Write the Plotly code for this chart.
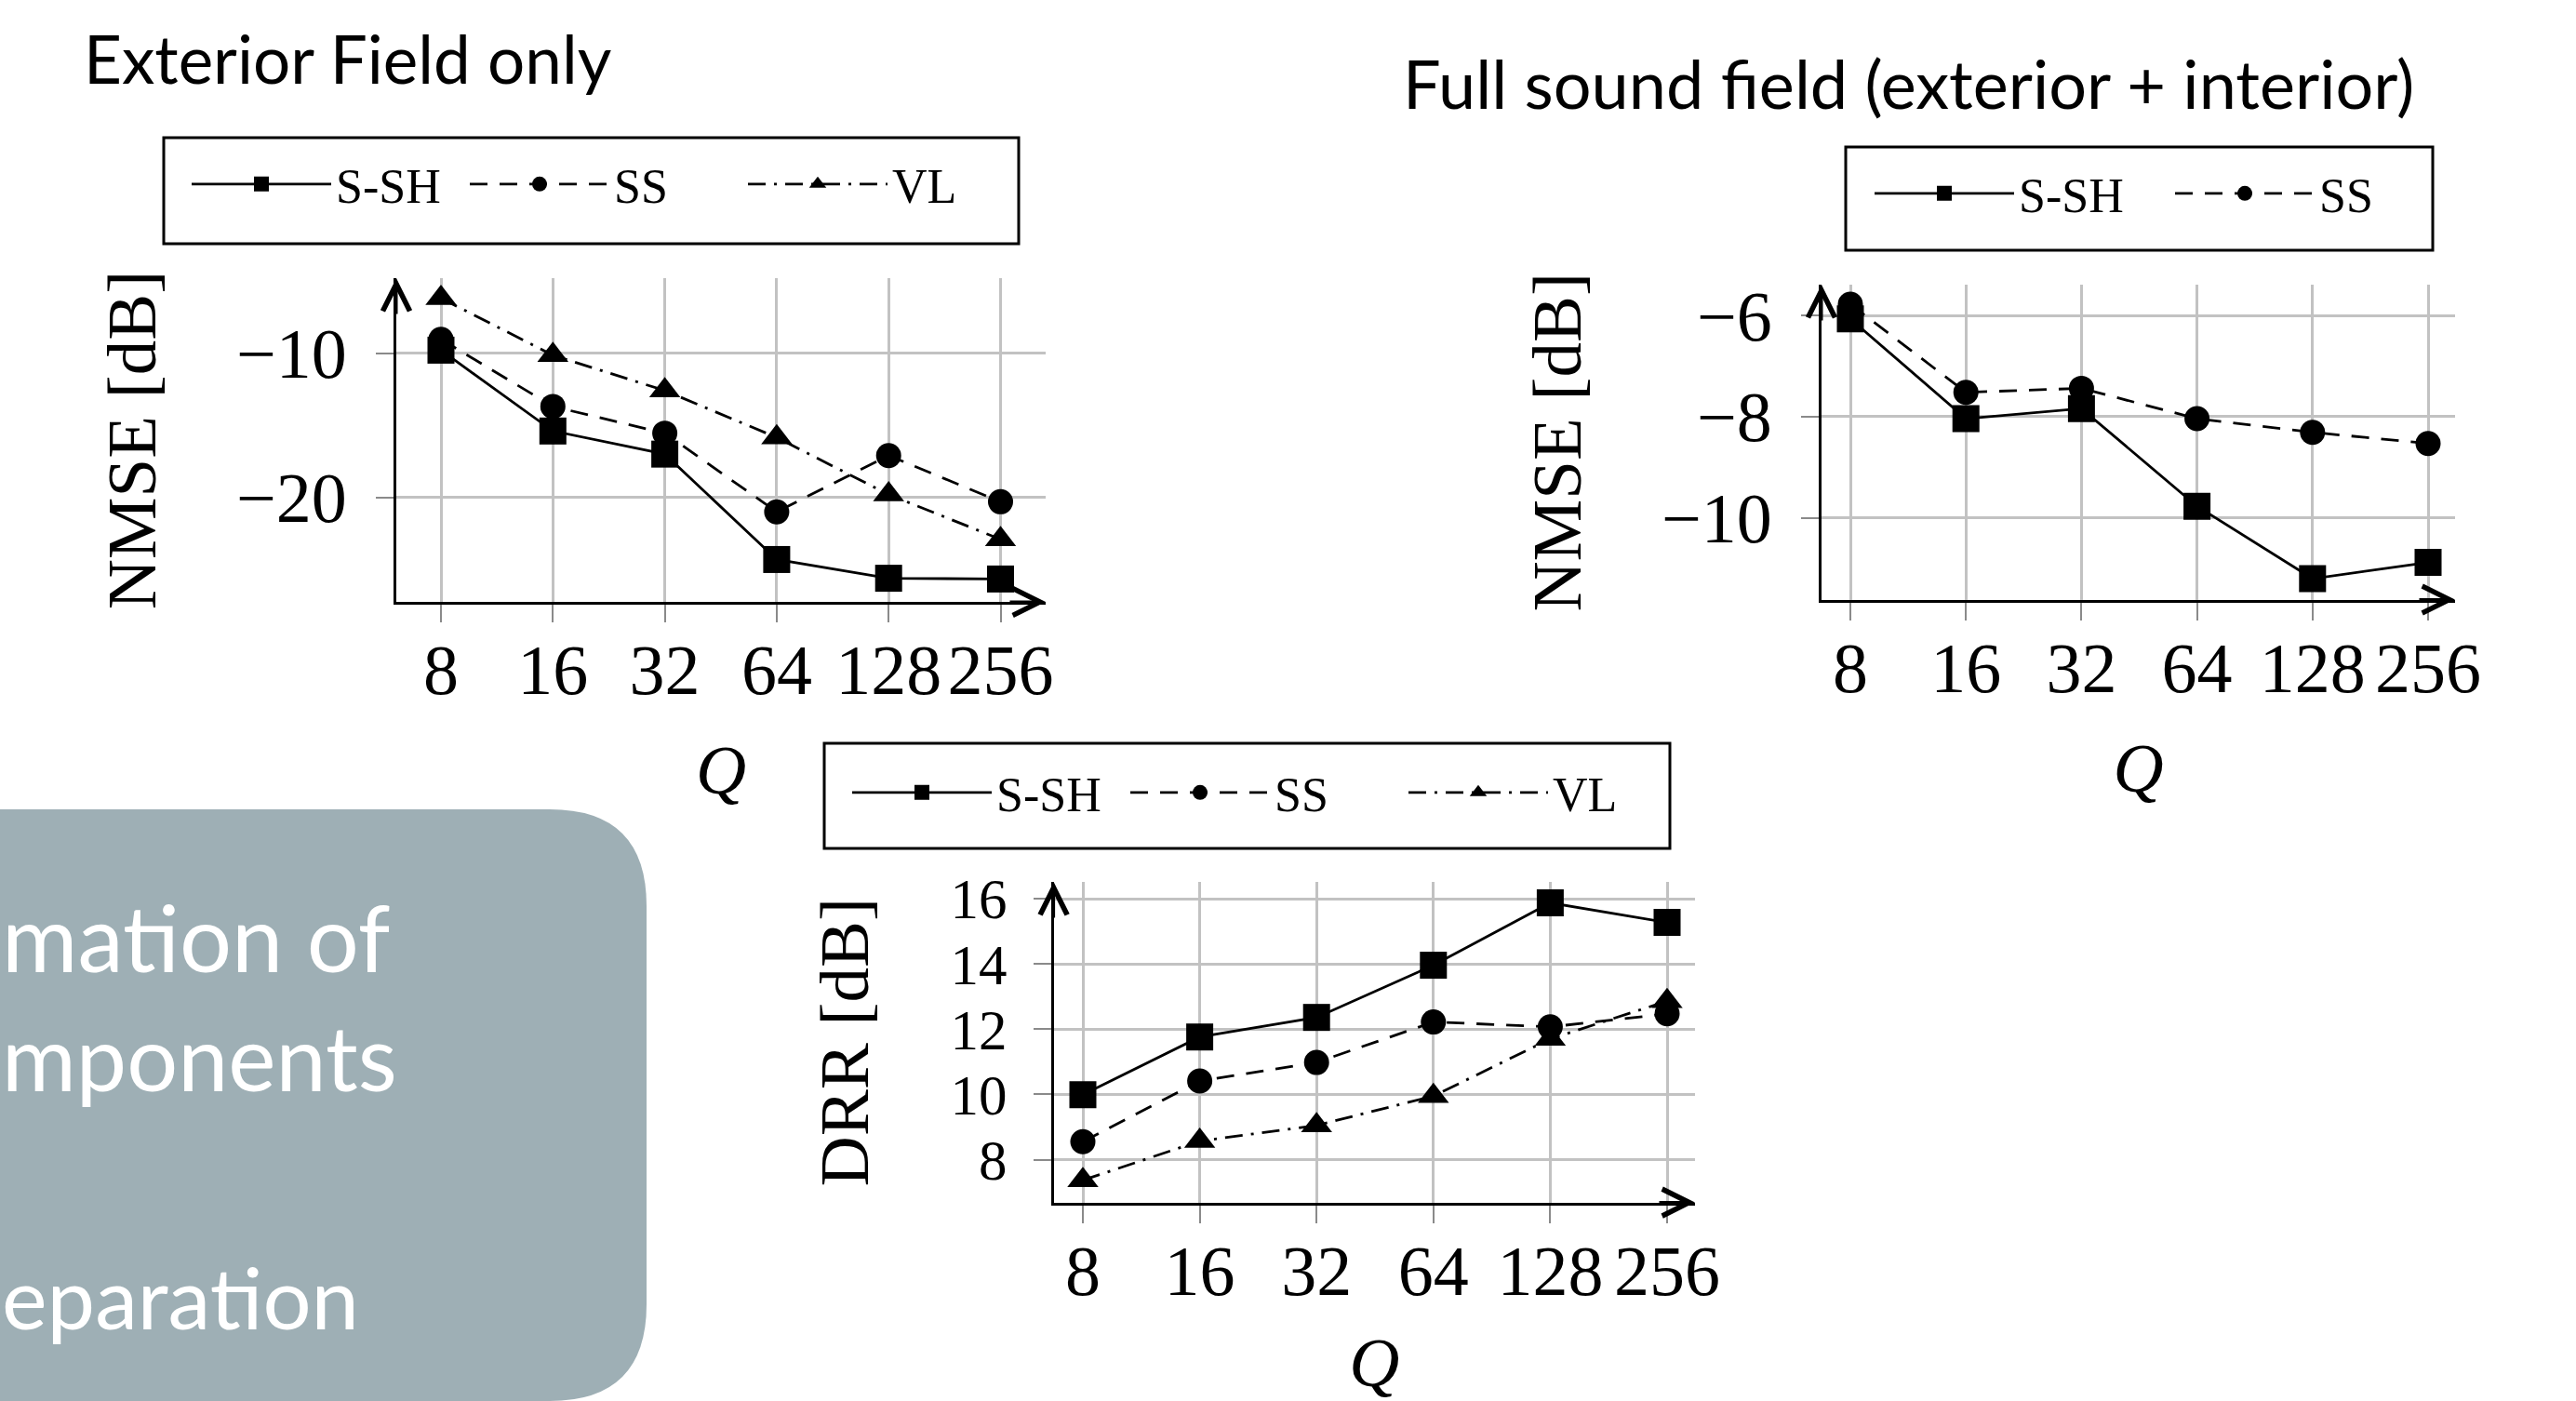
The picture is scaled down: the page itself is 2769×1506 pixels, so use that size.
import math
import plotly.graph_objects as go

W, H = 2769, 1506

# ---------------- data ----------------
Q = [8, 16, 32, 64, 128, 256]
q_ticktext = ["8", "16", "32", "64", "128", "256"]

ext_ssh = [-9.8, -15.4, -17.0, -24.3, -25.6, -25.65]
ext_ss = [-9.05, -13.7, -15.55, -21.0, -17.1, -20.3]
ext_vl = [-6.2, -10.15, -12.6, -15.85, -19.8, -22.9]

full_ssh = [-6.07, -8.04, -7.84, -9.77, -11.2, -10.88]
full_ss = [-5.78, -7.52, -7.44, -8.04, -8.31, -8.53]

drr_ssh = [9.99, 11.76, 12.36, 13.96, 15.87, 15.27]
drr_ss = [8.55, 10.41, 10.98, 12.22, 12.07, 12.47]
drr_vl = [7.37, 8.57, 9.05, 9.95, 11.7, 12.86]

ext_yticks = [-10, -20]
ext_yticktext = ["\u221210", "\u221220"]
full_yticks = [-6, -8, -10]
full_yticktext = ["\u22126", "\u22128", "\u221210"]
drr_yticks = [8, 10, 12, 14, 16]
drr_yticktext = ["8", "10", "12", "14", "16"]

series_names = ["S-SH", "SS", "VL"]

panel_lines = ["mation of", "mponents", "eparation"]

# ---------------- layout helpers ----------------
def px(x):
    return x / W

def py(y):
    return 1 - y / H

L2 = math.log10(2)

def xrange_log(left, right, tick8, step):
    a = math.log10(8) - (tick8 - left) / step * L2
    b = math.log10(8) + (right - tick8) / step * L2
    return [a, b]

def yrange_lin(top, bottom, vref, yref, ppd):
    lo = vref - (bottom - yref) / ppd
    hi = vref + (yref - top) / ppd
    return [lo, hi]

# plot boxes (pixels): left, right, top, bottom
P1 = dict(l=426, r=1124, t=299, b=647)
P2 = dict(l=1958, r=2639, t=306, b=644.5)
P3 = dict(l=1132.6, r=1822, t=948, b=1292.6)

r1x = xrange_log(P1["l"], P1["r"], 474, 120.3)
r1y = yrange_lin(P1["t"], P1["b"], -10, 379.5, 15.52)
r2x = xrange_log(P2["l"], P2["r"], 1989, 124.2)
r2y = yrange_lin(P2["t"], P2["b"], -6, 339, 54.43)
r3x = xrange_log(P3["l"], P3["r"], 1164, 125.6)
r3y = yrange_lin(P3["t"], P3["b"], 16, 966, 35.075)

LINE_W = 2.8
SOLID = "solid"
DASHED = "19px,13px"
DASHDOT = "19px,9px,3px,9px"

fig = go.Figure()

def add(x_ax, y_ax, yvals, name, symbol, size, dash, legend):
    fig.add_trace(go.Scatter(
        x=Q, y=yvals, name=name, mode="lines+markers",
        xaxis=x_ax, yaxis=y_ax, legend=legend,
        line=dict(color="black", width=LINE_W, dash=dash),
        marker=dict(symbol=symbol, size=size, color="black", line=dict(width=0)),
        hoverinfo="skip",
    ))

add("x", "y", ext_ssh, series_names[0], "square", 29, SOLID, "legend")
add("x", "y", ext_ss, series_names[1], "circle", 27, DASHED, "legend")
add("x", "y", ext_vl, series_names[2], "triangle-up", 29, DASHDOT, "legend")

add("x2", "y2", full_ssh, series_names[0], "square", 29, SOLID, "legend2")
add("x2", "y2", full_ss, series_names[1], "circle", 27, DASHED, "legend2")

add("x3", "y3", drr_ssh, series_names[0], "square", 29, SOLID, "legend3")
add("x3", "y3", drr_ss, series_names[1], "circle", 27, DASHED, "legend3")
add("x3", "y3", drr_vl, series_names[2], "triangle-up", 29, DASHDOT, "legend3")

TICKFONT = dict(family="Liberation Serif", size=76, color="black")
TICKFONT_SMALL = dict(family="Liberation Serif", size=61, color="black")
TITLEFONT = dict(family="Liberation Serif", size=75, color="black")
GRID = "#c2c2c2"

def xaxis_cfg(P, rng, anchor):
    return dict(
        domain=[px(P["l"]), px(P["r"])], range=rng, type="log", anchor=anchor,
        tickvals=Q, ticktext=q_ticktext, tickfont=TICKFONT,
        showgrid=True, gridcolor=GRID, gridwidth=3, zeroline=False,
        showline=True, linecolor="black", linewidth=3,
        ticks="outside", ticklen=19, tickwidth=2, tickcolor="#8a8a8a",
        ticklabelstandoff=-14, automargin=False,
        title=dict(text="<i>Q</i>", font=TITLEFONT, standoff=40),
        fixedrange=True,
    )

def yaxis_cfg(P, rng, anchor, tv, tt, title, tfont, standoff):
    return dict(
        domain=[py(P["b"]), py(P["t"])], range=rng, anchor=anchor,
        tickvals=tv, ticktext=tt, tickfont=tfont,
        showgrid=True, gridcolor=GRID, gridwidth=3, zeroline=False,
        showline=True, linecolor="black", linewidth=3,
        ticks="outside", ticklen=19, tickwidth=2, tickcolor="#8a8a8a",
        ticklabelstandoff=16, automargin=False,
        title=dict(text=title, font=TITLEFONT, standoff=standoff),
        fixedrange=True,
    )

LEGFONT = dict(family="Liberation Serif", size=52, color="black")

def legend_cfg(xl, yc, entry):
    return dict(
        x=px(xl), y=py(yc), xanchor="left", yanchor="middle",
        orientation="h", bgcolor="rgba(0,0,0,0)", borderwidth=0,
        font=LEGFONT, itemwidth=150, entrywidth=entry, entrywidthmode="pixels",
        itemclick=False, itemdoubleclick=False,
    )

shapes = []
annotations = []

# gray rounded panel (bottom-left)
gx0, gx1, gy0, gy1, rr = -20, 695, 870, 1506, 104
panel_path = (
    f"M{px(gx0)},{py(gy0)} L{px(gx1 - rr)},{py(gy0)} "
    f"Q{px(gx1)},{py(gy0)} {px(gx1)},{py(gy0 + rr)} "
    f"L{px(gx1)},{py(gy1 - rr)} "
    f"Q{px(gx1)},{py(gy1)} {px(gx1 - rr)},{py(gy1)} "
    f"L{px(gx0)},{py(gy1)} Z"
)
shapes.append(dict(type="path", xref="paper", yref="paper", path=panel_path,
                   fillcolor="#9eafb5", line=dict(width=0), layer="below"))

# legend frames
for (x0, y0, x1, y1) in [(176, 148, 1095, 262), (1984, 158, 2615, 269), (886, 799, 1795, 912)]:
    shapes.append(dict(type="rect", xref="paper", yref="paper",
                       x0=px(x0), x1=px(x1), y0=py(y1), y1=py(y0),
                       line=dict(color="black", width=3), fillcolor="rgba(0,0,0,0)"))

# axis arrow heads
for P in (P1, P2, P3):
    annotations.append(dict(xref="paper", yref="paper", x=px(P["r"]), y=py(P["b"]),
                            ax=-40, ay=0, text="", showarrow=True, arrowhead=5,
                            arrowsize=1.9, arrowwidth=3, arrowcolor="black", standoff=0))
    annotations.append(dict(xref="paper", yref="paper", x=px(P["l"]), y=py(P["t"]),
                            ax=0, ay=40, text="", showarrow=True, arrowhead=5,
                            arrowsize=1.9, arrowwidth=3, arrowcolor="black", standoff=0))

SANS = "Lato"
annotations.append(dict(xref="paper", yref="paper", x=px(88), y=py(107), xanchor="left",
                        yanchor="bottom", text="Exterior Field only", showarrow=False,
                        font=dict(family=SANS, size=71, color="black")))
annotations.append(dict(xref="paper", yref="paper", x=px(1506), y=py(134), xanchor="left",
                        yanchor="bottom", text="Full sound field (exterior + interior)",
                        showarrow=False, font=dict(family=SANS, size=72, color="black")))

for txt, base, fs in zip(panel_lines, [1045, 1173, 1428], [99, 97, 92]):
    annotations.append(dict(xref="paper", yref="paper", x=px(0), y=py(base + 23),
                            xanchor="left", yanchor="bottom", text=txt, showarrow=False,
                            font=dict(family=SANS, size=fs, color="white")))

fig.update_layout(
    template="none",
    width=W, height=H, margin=dict(l=0, r=0, t=0, b=0, autoexpand=False),
    paper_bgcolor="white", plot_bgcolor="rgba(0,0,0,0)",
    xaxis=xaxis_cfg(P1, r1x, "y"),
    yaxis=yaxis_cfg(P1, r1y, "x", ext_yticks, ext_yticktext, "NMSE [dB]", TICKFONT, 62),
    xaxis2=xaxis_cfg(P2, r2x, "y2"),
    yaxis2=yaxis_cfg(P2, r2y, "x2", full_yticks, full_yticktext, "NMSE [dB]", TICKFONT, 62),
    xaxis3=xaxis_cfg(P3, r3x, "y3"),
    yaxis3=yaxis_cfg(P3, r3y, "x3", drr_yticks, drr_yticktext, "DRR [dB]", TICKFONT_SMALL, 64),
    legend=legend_cfg(201, 198, 134),
    legend2=legend_cfg(2010, 208, 158),
    legend3=legend_cfg(911, 852, 134),
    shapes=shapes, annotations=annotations,
    showlegend=True,
)

fig.write_html("out.html", config={"displayModeBar": False, "staticPlot": True},
               post_script="document.body.style.margin='0px';document.body.style.overflow='hidden';")
